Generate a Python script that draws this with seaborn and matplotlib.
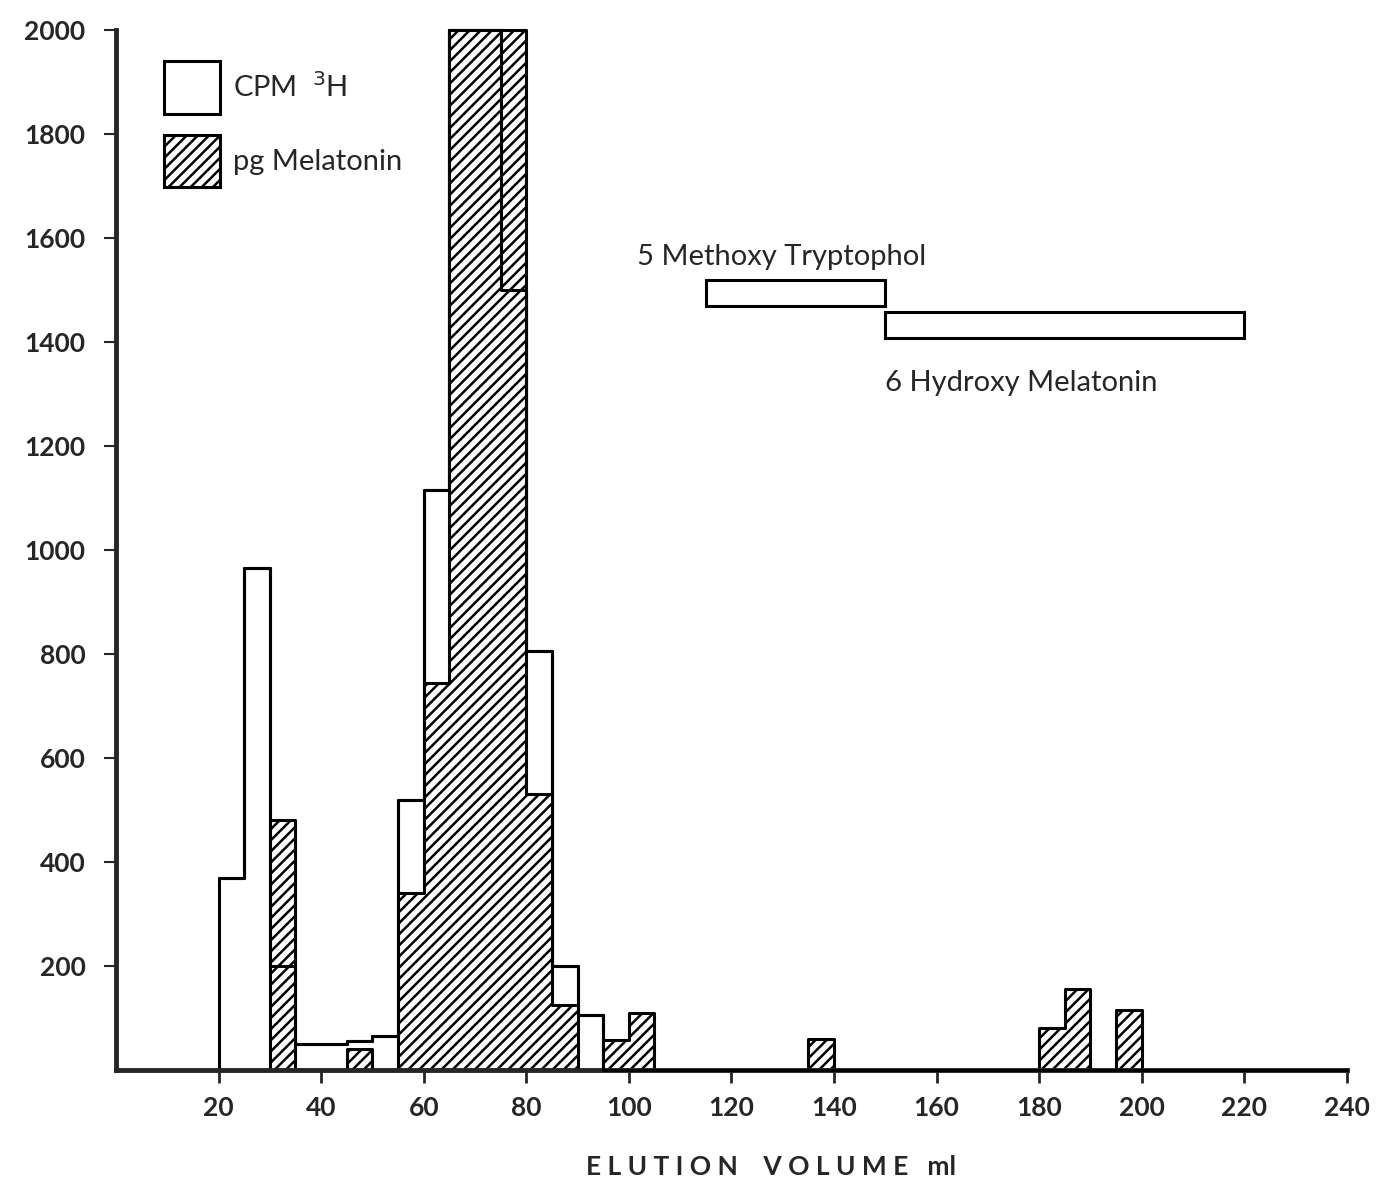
"""Elution profile: CPM 3H vs pg Melatonin"""
import numpy as np
import pandas as pd
import matplotlib
matplotlib.use("Agg")
import matplotlib.pyplot as plt
from matplotlib.patches import Patch
import seaborn as sns

# fractions of 5 ml, value given for the start of each fraction
cpm_start = [20, 25, 30, 35, 40, 45, 50, 55, 60, 65, 70, 75, 80, 85, 90]
cpm_value = [370, 965, 200, 50, 50, 55, 65, 520, 1115, 2000, 2000, 1500, 805, 200, 105]

mel_start = [30, 45, 55, 60, 65, 70, 75, 80, 85, 95, 100, 135, 180, 185, 195]
mel_value = [480, 40, 340, 745, 2000, 2000, 2000, 530, 125, 58, 110, 60, 80, 155, 115]

# elution ranges of the standards (ml)
std_names = ["5 Methoxy Tryptophol", "6 Hydroxy Melatonin"]
std_from = [115, 150]
std_to = [150, 220]

x_ticks = list(range(20, 241, 20))
y_ticks = list(range(200, 2001, 200))

FRACTION = 5

cpm = pd.DataFrame({"vol": np.array(cpm_start) + FRACTION / 2, "cpm": cpm_value})
mel = pd.DataFrame({"vol": np.array(mel_start) + FRACTION / 2, "pg": mel_value})

sns.set_style("ticks")
plt.rcParams["font.family"] = ["Lato", "DejaVu Sans"]
plt.rcParams["hatch.linewidth"] = 1.8

fig = plt.figure(figsize=(13.86, 11.82), dpi=100)
ax = fig.add_axes([0.0837, 0.0948, 0.888, 0.8798])

hist_kw = dict(binwidth=FRACTION, binrange=(20, 240), element="step", ax=ax)

# CPM bars, white fill
sns.histplot(data=cpm, x="vol", weights="cpm", fill=True, color="white",
             edgecolor="black", linewidth=2.2, alpha=1, zorder=1, **hist_kw)
# melatonin, hatched
sns.histplot(data=mel, x="vol", weights="pg", fill=True, color="white",
             edgecolor="black", linewidth=2.2, alpha=1, hatch="///", zorder=2,
             **hist_kw)
# CPM outline on top so it shows through the hatch
sns.histplot(data=cpm, x="vol", weights="cpm", fill=False, color="black",
             linewidth=2.2, zorder=3, **hist_kw)

for art in ax.collections + ax.lines:
    art.set_clip_on(False)

# standards
std_bottom = [1470, 1408]
ax.bar(x=std_from, height=50, width=np.array(std_to) - np.array(std_from),
       bottom=std_bottom, align="edge", fill=False, edgecolor="black", linewidth=2.2)
ax.text(101.5, 1564, std_names[0], fontsize=21, va="center", ha="left")
ax.text(150, 1322, std_names[1], fontsize=21, va="center", ha="left")

ax.set_xlim(0, 240)
ax.set_ylim(0, 2000)
ax.set_xticks(x_ticks)
ax.set_yticks(y_ticks)
ax.set_xticklabels([str(t) for t in x_ticks], fontsize=19, fontweight="bold")
ax.set_yticklabels([str(t) for t in y_ticks], fontsize=19, fontweight="bold")
ax.tick_params(axis="x", length=9, width=2, pad=10)
ax.tick_params(axis="y", length=9, width=1.5, pad=13)
sns.despine(ax=ax)
ax.spines["left"].set_linewidth(3.5)
ax.spines["bottom"].set_linewidth(3.5)
ax.set_ylabel("")
ax.set_xlabel("E L U T I O N    V O L U M E   ml", fontsize=19, fontweight="bold")
ax.xaxis.set_label_coords(0.532, -0.082)

handles = [
    Patch(facecolor="white", edgecolor="black", linewidth=2.2, label="CPM  $^{3}$H"),
    Patch(facecolor="white", edgecolor="black", linewidth=2.2, hatch="///",
          label="pg Melatonin"),
]
ax.legend(handles=handles, loc="upper left", bbox_to_anchor=(0.018, 0.995),
          frameon=False, fontsize=21, handlelength=1.9, handleheight=2.4,
          labelspacing=0.7, handletextpad=0.45)

fig.savefig("out.png", dpi=100)
